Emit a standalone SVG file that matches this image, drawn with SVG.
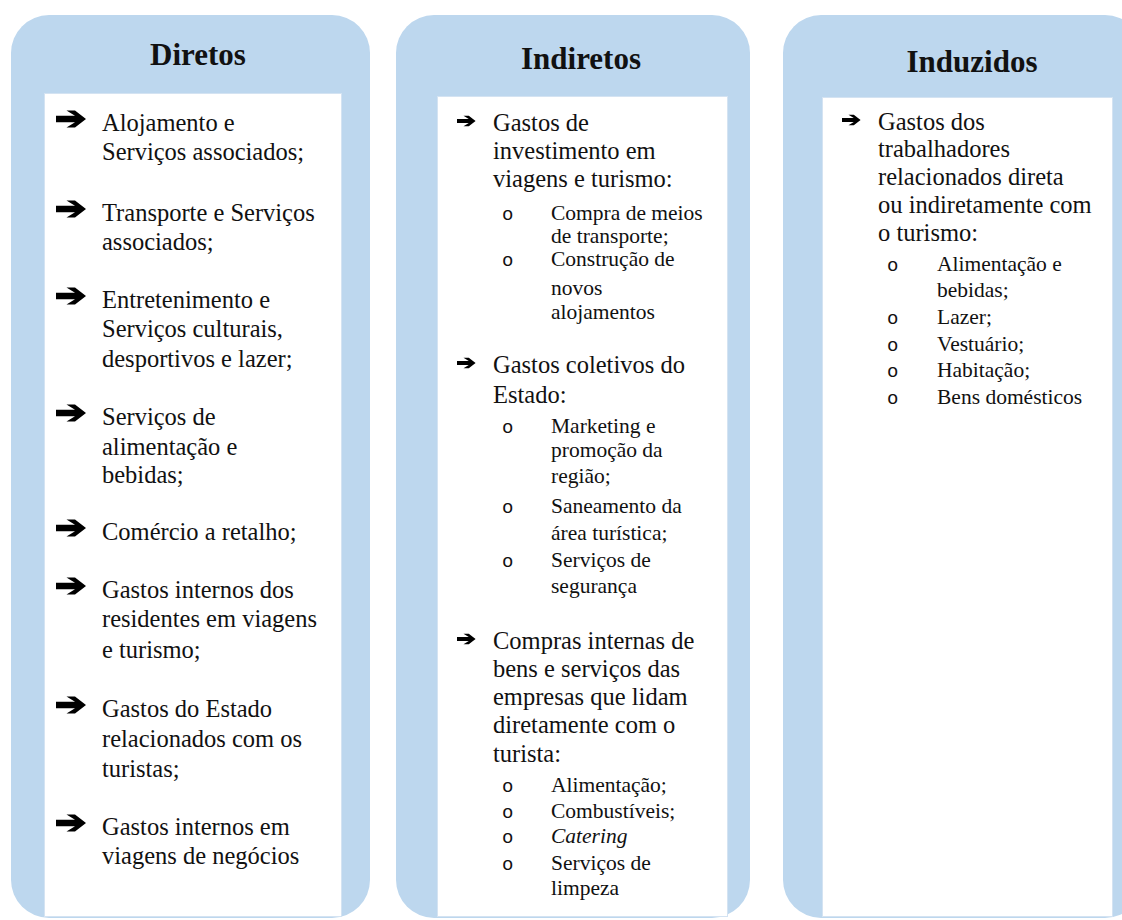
<svg xmlns="http://www.w3.org/2000/svg" xmlns:xlink="http://www.w3.org/1999/xlink" width="1122" height="920" viewBox="0 0 1122 920">
<defs>
<style>
.outer{fill:#BDD7EE;}
.inner{fill:#FFFFFF;stroke:#D4E3F2;stroke-width:1;}
.title{font-family:"Liberation Serif","Times New Roman",serif;font-weight:bold;font-size:31px;fill:#111;text-anchor:middle;}
.t{font-family:"Liberation Serif","Times New Roman",serif;font-size:24.5px;fill:#111;}
.s{font-family:"Liberation Serif","Times New Roman",serif;font-size:21.5px;fill:#111;}
.b{font-family:"Liberation Mono","Courier New",monospace;font-size:19px;fill:#111;}
.arr{fill:#000;}
</style>
<path id="arr" class="arr" d="M0,-3.2 H19 L10.5,-8.5 H19 L30,0 L19,8.5 H10.5 L19,3.2 H0 Z"/>
</defs>
<rect width="1122" height="920" fill="#FFFFFF"/>

<g id="diretos">
<rect class="outer" x="11" y="15" width="359" height="903" rx="38" ry="38"/>
<rect class="inner" x="44.5" y="93.5" width="297" height="823"/>
<text class="title" x="198" y="65">Diretos</text>
<use xlink:href="#arr" href="#arr" transform="translate(56,119)"/>
<text class="t" x="102" y="131">Alojamento e</text>
<text class="t" x="102" y="160">Serviços associados;</text>
<use xlink:href="#arr" href="#arr" transform="translate(56,209)"/>
<text class="t" x="102" y="221">Transporte e Serviços</text>
<text class="t" x="102" y="250">associados;</text>
<use xlink:href="#arr" href="#arr" transform="translate(56,296)"/>
<text class="t" x="102" y="308">Entretenimento e</text>
<text class="t" x="102" y="337">Serviços culturais,</text>
<text class="t" x="102" y="367">desportivos e lazer;</text>
<use xlink:href="#arr" href="#arr" transform="translate(56,413)"/>
<text class="t" x="102" y="425">Serviços de</text>
<text class="t" x="102" y="455">alimentação e</text>
<text class="t" x="102" y="483">bebidas;</text>
<use xlink:href="#arr" href="#arr" transform="translate(56,528)"/>
<text class="t" x="102" y="540">Comércio a retalho;</text>
<use xlink:href="#arr" href="#arr" transform="translate(56,586)"/>
<text class="t" x="102" y="598">Gastos internos dos</text>
<text class="t" x="102" y="627">residentes em viagens</text>
<text class="t" x="102" y="658">e turismo;</text>
<use xlink:href="#arr" href="#arr" transform="translate(56,705)"/>
<text class="t" x="102" y="717">Gastos do Estado</text>
<text class="t" x="102" y="747">relacionados com os</text>
<text class="t" x="102" y="777">turistas;</text>
<use xlink:href="#arr" href="#arr" transform="translate(56,823)"/>
<text class="t" x="102" y="835">Gastos internos em</text>
<text class="t" x="102" y="864">viagens de negócios</text>
</g>

<g id="indiretos">
<rect class="outer" x="396" y="15" width="354" height="903" rx="38" ry="38"/>
<rect class="inner" x="437.5" y="96.5" width="290" height="820"/>
<text class="title" x="581" y="69">Indiretos</text>
<use xlink:href="#arr" href="#arr" transform="translate(457,121) scale(0.62)"/>
<text class="t" x="493" y="131">Gastos de</text>
<text class="t" x="493" y="159">investimento em</text>
<text class="t" x="493" y="187">viagens e turismo:</text>
<text class="b" x="502" y="220">o</text>
<text class="s" x="551" y="220">Compra de meios</text>
<text class="s" x="551" y="243">de transporte;</text>
<text class="b" x="502" y="266">o</text>
<text class="s" x="551" y="266">Construção de</text>
<text class="s" x="551" y="295">novos</text>
<text class="s" x="551" y="319">alojamentos</text>
<use xlink:href="#arr" href="#arr" transform="translate(457,363) scale(0.62)"/>
<text class="t" x="493" y="373">Gastos coletivos do</text>
<text class="t" x="493" y="403">Estado:</text>
<text class="b" x="502" y="433">o</text>
<text class="s" x="551" y="433">Marketing e</text>
<text class="s" x="551" y="457">promoção da</text>
<text class="s" x="551" y="483">região;</text>
<text class="b" x="502" y="513">o</text>
<text class="s" x="551" y="513">Saneamento da</text>
<text class="s" x="551" y="540">área turística;</text>
<text class="b" x="502" y="567">o</text>
<text class="s" x="551" y="567">Serviços de</text>
<text class="s" x="551" y="593">segurança</text>
<use xlink:href="#arr" href="#arr" transform="translate(457,639) scale(0.62)"/>
<text class="t" x="493" y="649">Compras internas de</text>
<text class="t" x="493" y="677">bens e serviços das</text>
<text class="t" x="493" y="705">empresas que lidam</text>
<text class="t" x="493" y="733">diretamente com o</text>
<text class="t" x="493" y="762">turista:</text>
<text class="b" x="502" y="792">o</text>
<text class="s" x="551" y="792">Alimentação;</text>
<text class="b" x="502" y="818">o</text>
<text class="s" x="551" y="818">Combustíveis;</text>
<text class="b" x="502" y="843">o</text>
<text class="s" x="551" y="843" font-style="italic">Catering</text>
<text class="b" x="502" y="870">o</text>
<text class="s" x="551" y="870">Serviços de</text>
<text class="s" x="551" y="895">limpeza</text>
</g>

<g id="induzidos">
<rect class="outer" x="783" y="15" width="360" height="903" rx="38" ry="38"/>
<rect class="inner" x="822.5" y="97.5" width="290" height="819"/>
<text class="title" x="972" y="72">Induzidos</text>
<use xlink:href="#arr" href="#arr" transform="translate(842,120) scale(0.62)"/>
<text class="t" x="878" y="130">Gastos dos</text>
<text class="t" x="878" y="157">trabalhadores</text>
<text class="t" x="878" y="185">relacionados direta</text>
<text class="t" x="878" y="213">ou indiretamente com</text>
<text class="t" x="878" y="241">o turismo:</text>
<text class="b" x="887" y="271">o</text>
<text class="s" x="937" y="271">Alimentação e</text>
<text class="s" x="937" y="297">bebidas;</text>
<text class="b" x="887" y="324">o</text>
<text class="s" x="937" y="324">Lazer;</text>
<text class="b" x="887" y="351">o</text>
<text class="s" x="937" y="351">Vestuário;</text>
<text class="b" x="887" y="377">o</text>
<text class="s" x="937" y="377">Habitação;</text>
<text class="b" x="887" y="404">o</text>
<text class="s" x="937" y="404">Bens domésticos</text>
</g>

<g id="connectors"></g>
</svg>
